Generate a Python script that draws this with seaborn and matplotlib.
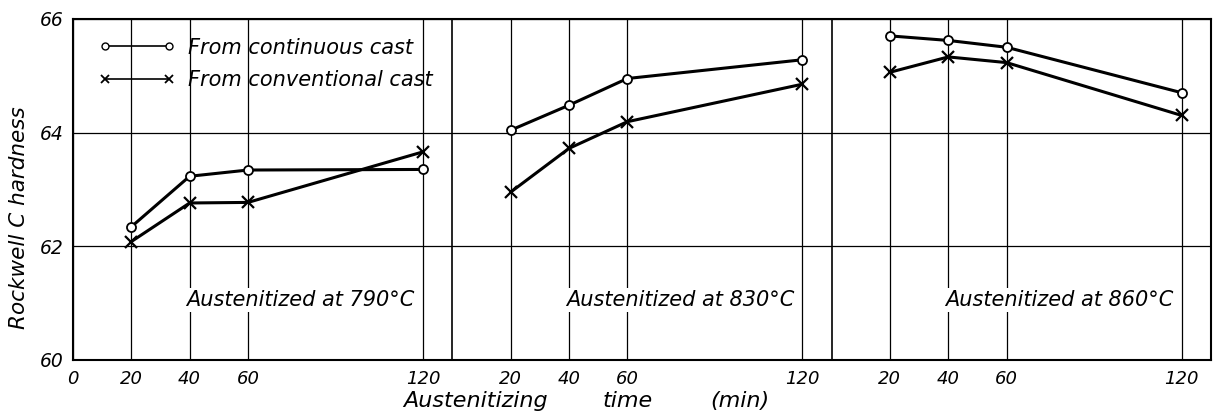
import numpy as np
import pandas as pd
import matplotlib
matplotlib.use("Agg")
import matplotlib.pyplot as plt
import seaborn as sns
from matplotlib.lines import Line2D

# austenitizing times (min) and temperatures of the three panels
times = [20, 40, 60, 120]
temps = ["790", "830", "860"]

# Rockwell C hardness
cont_790 = [62.34, 63.23, 63.34, 63.35]
cont_830 = [64.04, 64.48, 64.95, 65.28]
cont_860 = [65.70, 65.62, 65.50, 64.70]
conv_790 = [62.08, 62.76, 62.77, 63.66]
conv_830 = [62.95, 63.72, 64.19, 64.85]
conv_860 = [65.06, 65.33, 65.23, 64.30]

PANEL = 130  # width of one panel in minutes

continuous = [cont_790, cont_830, cont_860]
conventional = [conv_790, conv_830, conv_860]

rows = []
for p, temp in enumerate(temps):
    for t, c, v in zip(times, continuous[p], conventional[p]):
        rows.append({"pos": p * PANEL + t, "hardness": c, "cast": "continuous", "panel": temp})
        rows.append({"pos": p * PANEL + t, "hardness": v, "cast": "conventional", "panel": temp})
df = pd.DataFrame(rows)

sns.set_theme(style="white")
plt.rcParams["font.family"] = ["DejaVu Sans"]
plt.rcParams["font.style"] = "italic"
plt.rcParams["text.color"] = "black"
plt.rcParams["xtick.color"] = "black"
plt.rcParams["ytick.color"] = "black"
plt.rcParams["axes.labelcolor"] = "black"

fig = plt.figure(figsize=(12.15, 4.16), dpi=100)
ax = fig.add_axes([0.060, 0.135, 0.9366, 0.8197])

sns.lineplot(data=df[df["cast"] == "continuous"], x="pos", y="hardness", units="panel",
             estimator=None, color="black", lw=2.2, marker="o", ms=6.5, mfc="white",
             mec="black", mew=1.3, legend=False, ax=ax, zorder=3)
sns.lineplot(data=df[df["cast"] == "conventional"], x="pos", y="hardness", units="panel",
             estimator=None, color="black", lw=2.2, marker="x", ms=8, mec="black", mew=1.6,
             legend=False, ax=ax, zorder=3)

# ticks and grid
tick_pos = [0] + [p * PANEL + t for p in range(3) for t in times]
tick_lab = ["0"] + [str(t) for p in range(3) for t in times]
ax.set_xlim(0, 3 * PANEL)
ax.set_ylim(60, 66)
ax.set_xticks(tick_pos)
ax.set_xticklabels(tick_lab, fontsize=13, style="italic")
ax.set_yticks([60, 62, 64, 66])
ax.set_yticklabels(["60", "62", "64", "66"], fontsize=13.5, style="italic")
ax.tick_params(length=0, pad=7)
ax.grid(True, color="black", lw=0.9)
ax.set_axisbelow(True)
for s in ax.spines.values():
    s.set_color("black")
    s.set_linewidth(1.5)
for p in range(1, 3):
    ax.axvline(p * PANEL, color="black", lw=1.2)

ax.set_xlabel("")
ax.set_ylabel("")

# panel annotations
for p, temp in enumerate(temps):
    ax.text(p * PANEL + 78, 61.05, f"Austenitized at {temp}°C", ha="center", va="center",
            fontsize=15, style="italic",
            bbox=dict(facecolor="white", edgecolor="none", pad=1.5), zorder=2)

handles = [
    Line2D([], [], color="black", lw=1.2, marker="o", ms=5, mfc="white", mec="black"),
    Line2D([], [], color="black", lw=1.2, marker="x", ms=6, mew=1.3),
]
ax.legend(handles, ["From continuous cast", "From conventional cast"], loc="upper left",
          bbox_to_anchor=(0.006, 1.0), frameon=False, numpoints=2, handlelength=3.7,
          labelspacing=0.6, handletextpad=0.6,
          prop={"style": "italic", "size": 15})

fig.text(0.016, 0.478, "Rockwell C hardness", rotation=90, ha="center", va="center",
         fontsize=15.5, style="italic")
fig.text(476 / 1215, 1 - 401 / 416, "Austenitizing", ha="center", va="center", fontsize=16, style="italic")
fig.text(628 / 1215, 1 - 401 / 416, "time", ha="center", va="center", fontsize=16, style="italic")
fig.text(740 / 1215, 1 - 401 / 416, "(min)", ha="center", va="center", fontsize=16, style="italic")

plt.savefig("out.png", dpi=100)
